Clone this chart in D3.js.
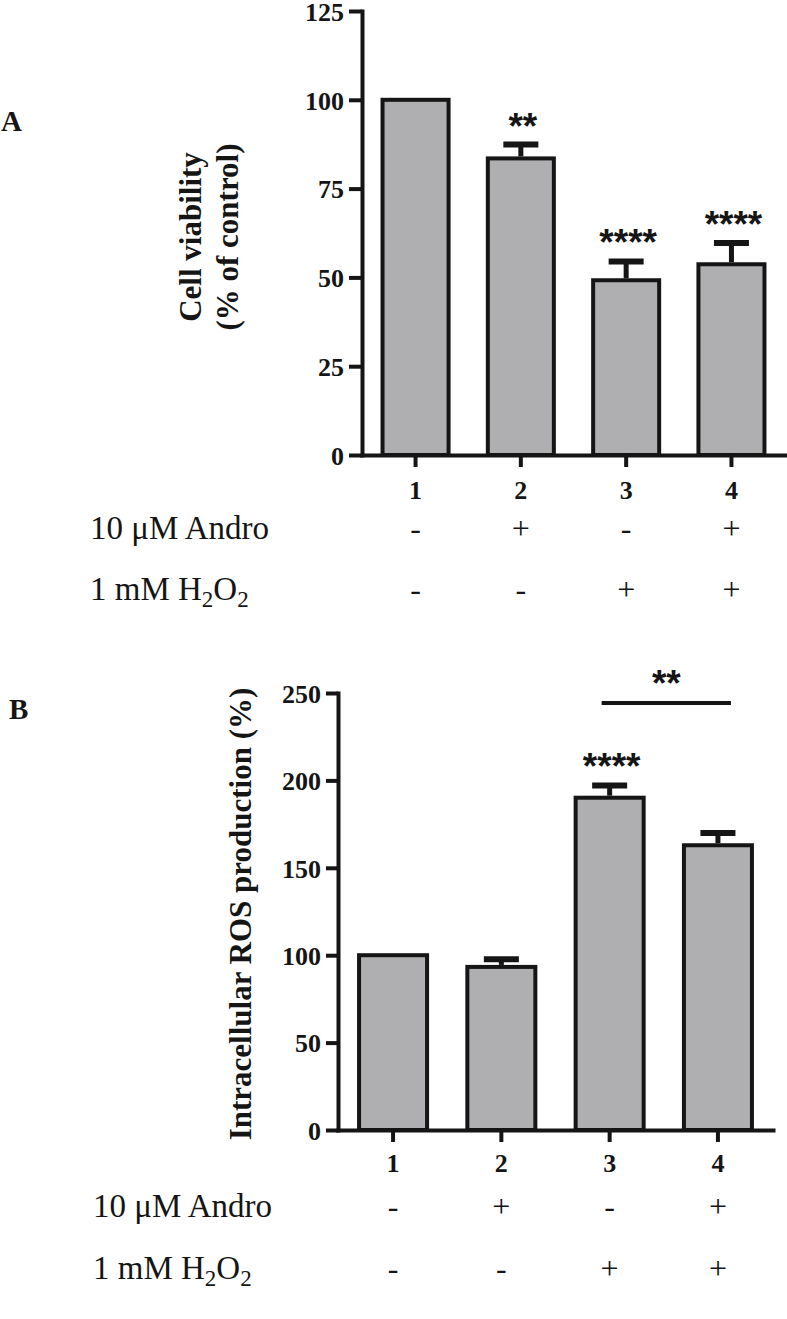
<!DOCTYPE html>
<html>
<head>
<meta charset="utf-8">
<script src="https://cdn.jsdelivr.net/npm/d3@7/dist/d3.min.js"></script>
<style>
  html, body { margin: 0; padding: 0; background: #fff; }
  svg { display: block; }
</style>
</head>
<body>
<svg id="chart" width="787" height="1319"></svg>
<script>
// ---------------- data ----------------
const groups = ["1", "2", "3", "4"];
const androTreatment = ["-", "+", "-", "+"];
const h2o2Treatment = ["-", "-", "+", "+"];

const viabilityMean = [100, 83.5, 49.2, 53.7];
const viabilityErr = [0, 3.9, 5.3, 6.0];
const viabilityStars = ["", "**", "****", "****"];
const viabilityTicks = [0, 25, 50, 75, 100, 125];

const rosMean = [100, 93.3, 190.1, 162.9];
const rosErr = [0, 4.4, 7.0, 7.0];
const rosStars = ["", "", "****", ""];
const rosTicks = [0, 50, 100, 150, 200, 250];
const rosComparisonGroups = ["3", "4"];
const rosComparisonLabel = "**";

// ---------------- style ----------------
const INK = "#151515";
const BAR_FILL = "#afafb1";
const SERIF = "'Liberation Serif', 'Times New Roman', serif";
const SANS = "'Liberation Sans', Arial, sans-serif";

const svg = d3.select("#chart");
svg.append("rect").attr("width", 787).attr("height", 1319).attr("fill", "#fff");

function drawPanel(cfg) {
  const g = svg.append("g");
  const x = d3.scaleBand().domain(groups).range(cfg.xRange)
    .paddingInner(0.335).paddingOuter(0.176);
  const y = d3.scaleLinear().domain([0, cfg.ticks[cfg.ticks.length - 1]]).range(cfg.yRange);
  const bw = x.bandwidth();
  const rows = groups.map((k, i) => ({ k, v: cfg.mean[i], e: cfg.err[i], s: cfg.stars[i] }));

  // bars
  g.selectAll("rect.bar").data(rows).join("rect")
    .attr("class", "bar")
    .attr("x", d => x(d.k) + 2)
    .attr("width", bw - 4)
    .attr("y", d => y(d.v))
    .attr("height", d => y(0) - y(d.v))
    .attr("fill", BAR_FILL)
    .attr("stroke", INK)
    .attr("stroke-width", 4);

  // error bars (upper only)
  const eb = rows.filter(d => d.e > 0);
  g.selectAll("line.err").data(eb).join("line")
    .attr("x1", d => x(d.k) + bw / 2).attr("x2", d => x(d.k) + bw / 2)
    .attr("y1", d => y(d.v) - 2).attr("y2", d => y(d.v + d.e))
    .attr("stroke", INK).attr("stroke-width", 5);
  g.selectAll("line.cap").data(eb).join("line")
    .attr("x1", d => x(d.k) + bw / 2 - 17.5).attr("x2", d => x(d.k) + bw / 2 + 17.5)
    .attr("y1", d => y(d.v + d.e)).attr("y2", d => y(d.v + d.e))
    .attr("stroke", INK).attr("stroke-width", 6);

  // stars
  g.selectAll("text.star").data(rows.filter(d => d.s)).join("text")
    .attr("x", d => x(d.k) + bw / 2 + 2)
    .attr("y", d => y(d.v + d.e) - 27 + 21)
    .attr("text-anchor", "middle")
    .attr("font-family", SANS).attr("font-weight", "bold").attr("font-size", 37)
    .attr("fill", INK)
    .text(d => d.s);

  // axes
  const yAxis = g.append("g").attr("transform", `translate(${cfg.xRange[0]},0)`)
    .call(d3.axisLeft(y).tickValues(cfg.ticks).tickSize(cfg.tickLen).tickSizeOuter(0).tickPadding(5));
  const xAxis = g.append("g").attr("transform", `translate(0,${y(0)})`)
    .call(d3.axisBottom(x).tickSize(12).tickSizeOuter(0));

  [yAxis, xAxis].forEach(a => {
    a.select(".domain").attr("stroke", INK).attr("stroke-width", 4).attr("stroke-linecap", "square");
    a.selectAll(".tick line").attr("stroke", INK).attr("stroke-width", 4);
    a.selectAll(".tick text")
      .attr("font-family", SERIF).attr("font-weight", "bold").attr("font-size", 26)
      .attr("fill", INK);
  });
  yAxis.selectAll(".tick text").attr("dy", "0.36em");
  xAxis.selectAll(".tick text").attr("y", cfg.xLabelOffset).attr("dy", 0);

  // y label
  cfg.yLabel.forEach(l => {
    g.append("text")
      .attr("transform", `translate(${l.x},${cfg.yLabelCenter}) rotate(-90)`)
      .attr("text-anchor", "middle")
      .attr("font-family", SERIF).attr("font-weight", "bold").attr("font-size", 31)
      .attr("fill", INK)
      .text(l.t);
  });

  // panel letter
  g.append("text").attr("x", cfg.letterPos[0]).attr("y", cfg.letterPos[1])
    .attr("font-family", SERIF).attr("font-weight", "bold").attr("font-size", 29)
    .attr("fill", INK).text(cfg.letter);

  // treatment rows
  const rowDefs = [
    { label: "andro", signs: androTreatment, y: cfg.rowBaselines[0] },
    { label: "h2o2", signs: h2o2Treatment, y: cfg.rowBaselines[1] }
  ];
  rowDefs.forEach(r => {
    const t = g.append("text").attr("x", cfg.rowLabelX).attr("y", r.y)
      .attr("font-family", SERIF).attr("font-size", 33).attr("fill", INK);
    if (r.label === "andro") {
      t.text("10 \u03BCM Andro");
    } else {
      t.append("tspan").text("1 mM H");
      t.append("tspan").attr("dy", 7).attr("font-size", 23).text("2");
      t.append("tspan").attr("dy", -7).text("O");
      t.append("tspan").attr("dy", 7).attr("font-size", 23).text("2");
    }
    g.selectAll(null).data(groups).join("text")
      .attr("x", (k) => x(k) + bw / 2)
      .attr("y", r.y)
      .attr("text-anchor", "middle")
      .attr("font-family", SERIF).attr("font-size", 32).attr("fill", INK)
      .text((k, i) => r.signs[i]);
  });

  return { g, x, y, bw };
}

// Panel A
drawPanel({
  xRange: [362, 785], yRange: [455, 11],
  ticks: viabilityTicks, tickLen: 13,
  mean: viabilityMean, err: viabilityErr, stars: viabilityStars,
  xLabelOffset: 44,
  yLabel: [{ t: "Cell viability", x: 201 }, { t: "(% of control)", x: 238 }],
  yLabelCenter: 237,
  letter: "A", letterPos: [1, 131],
  rowLabelX: 90, rowBaselines: [539, 600]
});

// Panel B
const pB = drawPanel({
  xRange: [338, 773], yRange: [1130, 693],
  ticks: rosTicks, tickLen: 12,
  mean: rosMean, err: rosErr, stars: rosStars,
  xLabelOffset: 42,
  yLabel: [{ t: "Intracellular ROS production (%)", x: 251 }],
  yLabelCenter: 914,
  letter: "B", letterPos: [9, 719],
  rowLabelX: 93, rowBaselines: [1217, 1279]
});

// comparison bar in panel B (group 3 vs 4)
{
  const { g, x, y, bw } = pB;
  const x1 = x(rosComparisonGroups[0]) + bw / 2 - 8;
  const x2 = x(rosComparisonGroups[1]) + bw / 2 + 13;
  const ly = y(rosTicks[rosTicks.length - 1]) + 10;
  g.append("line").attr("x1", x1).attr("x2", x2).attr("y1", ly).attr("y2", ly)
    .attr("stroke", INK).attr("stroke-width", 4);
  g.append("text").attr("x", (x1 + x2) / 2).attr("y", ly - 28 + 21)
    .attr("text-anchor", "middle")
    .attr("font-family", SANS).attr("font-weight", "bold").attr("font-size", 37)
    .attr("fill", INK).text(rosComparisonLabel);
}
</script>
</body>
</html>
